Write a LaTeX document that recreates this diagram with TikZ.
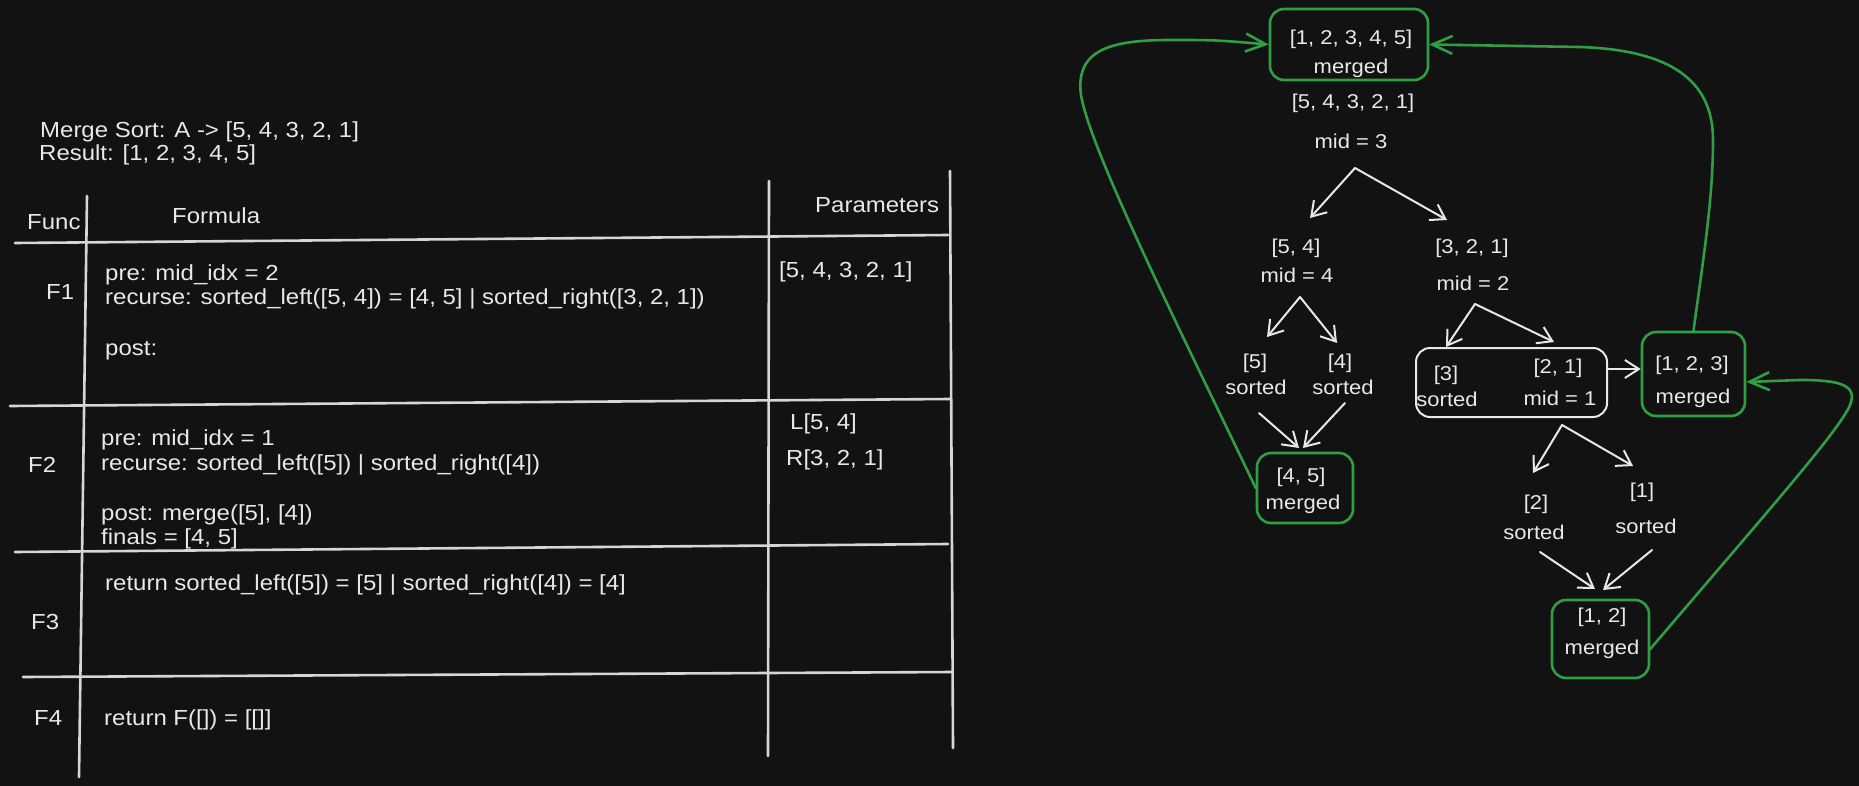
\documentclass[tikz,border=0pt]{standalone}
\usepackage{fontspec}
\setmainfont{Liberation Sans}[FakeStretch=1.1]
\usetikzlibrary{arrows.meta}
\definecolor{bg}{HTML}{121212}
\definecolor{fg}{HTML}{E8E8E8}
\definecolor{ln}{HTML}{D6D6D6}
\definecolor{gr}{HTML}{2F9E44}
\begin{document}
\begin{tikzpicture}[x=1pt,y=-1pt,
  tl/.style={anchor=base west, yshift=-7.5pt, text=fg, inner sep=0pt, font=\fontsize{21.8}{26}\selectfont},
  dt/.style={anchor=base, yshift=-7pt, text=fg, inner sep=0pt, font=\fontsize{20}{24}\selectfont},
  tline/.style={draw=ln, line width=2.6pt, line cap=round},
  wbox/.style={draw=fg, line width=2pt, rounded corners=14pt, inner sep=0pt},
  gbox/.style={draw=gr, line width=2.6pt, rounded corners=14pt, inner sep=0pt},
  warr/.style={draw=fg, line width=2pt, line cap=round, line join=round, -{Straight Barb[length=14pt,width=18pt]}},
  garr/.style={draw=gr, line width=2.6pt, line cap=round, line join=round, -{Straight Barb[length=20pt,width=18pt]}},
]
\fill[bg] (0,0) rectangle (1859,786);
\useasboundingbox (0,0) rectangle (1859,786);

% ---------- table ----------
\draw[tline] (87,196) -- (79,777);
\draw[tline] (769,181) -- (768,756);
\draw[tline] (950,171) -- (953,748);
\draw[tline] (15,243) -- (948,235);
\draw[tline] (10,406) -- (950,399);
\draw[tline] (15,552) -- (948,544);
\draw[tline] (23,677) -- (953,672);

\node[tl] (title) at (40,130) {Merge Sort: A -> [5, 4, 3, 2, 1]};
\node[tl] (result) at (39,153) {Result: [1, 2, 3, 4, 5]};
\node[tl] (hfunc) at (27,222) {Func};
\node[tl] (hform) at (172,216) {Formula};
\node[tl] (hpar) at (815,205) {Parameters};
\node[tl] (fa) at (46,292) {F1};
\node[tl] (fa1) at (105,273) {pre: mid\_idx = 2};
\node[tl] (fa2) at (105,297) {recurse: sorted\_left([5, 4]) = [4, 5] | sorted\_right([3, 2, 1])};
\node[tl] (fa3) at (105,348) {post:};
\node[tl] (pa) at (779,270) {[5, 4, 3, 2, 1]};
\node[tl] (fb) at (28,465) {F2};
\node[tl] (fb1) at (101,438) {pre: mid\_idx = 1};
\node[tl] (fb2) at (101,463) {recurse: sorted\_left([5]) | sorted\_right([4])};
\node[tl] (fb3) at (101,513) {post: merge([5], [4])};
\node[tl] (fb4) at (101,537) {finals = [4, 5]};
\node[tl] (pb1) at (790,422) {L[5, 4]};
\node[tl] (pb2) at (786,458) {R[3, 2, 1]};
\node[tl] (fc1) at (105,583) {return sorted\_left([5]) = [5] | sorted\_right([4]) = [4]};
\node[tl] (fc) at (31,622) {F3};
\node[tl] (fd) at (34,718) {F4};
\node[tl] (fd1) at (104,718) {return F([]) = [[]]};

% ---------- tree ----------
\node[gbox, minimum width=158pt, minimum height=71pt] (top) at (1349,44.5) {};
\node[dt] (topa) at (1351,38) {[1, 2, 3, 4, 5]};
\node[dt] (topb) at (1351,67) {merged};
\node[dt] (a1) at (1353,102) {[5, 4, 3, 2, 1]};
\node[dt] (m1) at (1351,142) {mid = 3};
\node[dt] (a2) at (1296,247) {[5, 4]};
\node[dt] (m2) at (1297,275) {mid = 4};
\node[dt] (a3) at (1472,247) {[3, 2, 1]};
\node[dt] (m3) at (1473,283) {mid = 2};
\node[dt] (s5a) at (1255,361) {[5]};
\node[dt] (s5b) at (1256,387) {sorted};
\node[dt] (s4a) at (1340,361) {[4]};
\node[dt] (s4b) at (1343,387) {sorted};
\node[gbox, minimum width=96pt, minimum height=70pt] (g45) at (1305,488) {};
\node[dt] (g45a) at (1301,475) {[4, 5]};
\node[dt] (g45b) at (1303,502) {merged};
\node[wbox, minimum width=191pt, minimum height=69pt] (wb) at (1511.5,382.5) {};
\node[dt] (w3a) at (1446,373) {[3]};
\node[dt] (w3b) at (1447,399) {sorted};
\node[dt] (w21a) at (1558,366) {[2, 1]};
\node[dt] (w21b) at (1560,398) {mid = 1};
\node[gbox, minimum width=103pt, minimum height=84pt] (g123) at (1693.5,374) {};
\node[dt] (g123a) at (1692,363) {[1, 2, 3]};
\node[dt] (g123b) at (1693,396) {merged};
\node[dt] (s2a) at (1536,502) {[2]};
\node[dt] (s2b) at (1534,532) {sorted};
\node[dt] (s1a) at (1642,490) {[1]};
\node[dt] (s1b) at (1646,526) {sorted};
\node[gbox, minimum width=97pt, minimum height=78pt] (g12) at (1600.5,639) {};
\node[dt] (g12a) at (1602,615) {[1, 2]};
\node[dt] (g12b) at (1602,647) {merged};

% fork coordinates
\coordinate (f1) at (1355,168);
\coordinate (f1l) at (1310,218);
\coordinate (f1r) at (1447,220);
\coordinate (f2) at (1300,297);
\coordinate (f2l) at (1267,337);
\coordinate (f2r) at (1337,343);
\coordinate (f3) at (1475,304);
\coordinate (f3l) at (1446,347);
\coordinate (f3r) at (1554,342);
\coordinate (f4) at (1562,425);
\coordinate (f4l) at (1533,473);
\coordinate (f4r) at (1633,466);
\coordinate (c5) at (1259,413);
\coordinate (c5e) at (1299,448);
\coordinate (c4) at (1345,403);
\coordinate (c4e) at (1303,448);
\coordinate (c2) at (1540,552);
\coordinate (c2e) at (1595,589);
\coordinate (c1) at (1652,550);
\coordinate (c1e) at (1603,590);
\coordinate (yw) at (0,369);

\draw[warr] (f1) -- (f1l);
\draw[warr] (f1) -- (f1r);
\draw[warr] (f2) -- (f2l);
\draw[warr] (f2) -- (f2r);
\draw[warr] (f3) -- (f3l);
\draw[warr] (f3) -- (f3r);
\draw[warr] (f4) -- (f4l);
\draw[warr] (f4) -- (f4r);
\draw[warr] (c5) -- (c5e);
\draw[warr] (c4) -- (c4e);
\draw[warr] (c2) -- (c2e);
\draw[warr] (c1) -- (c1e);
\draw[warr] (wb.east |- yw) -- (g123.west |- yw);

% green returns
\draw[garr] (g45.west) .. controls (1180,330) and (1090,150) .. (1081,95)
  .. controls (1075,50) and (1110,40) .. (1170,40)
  .. controls (1215,40) .. (top.west);
\draw[garr] (g123.north) .. controls (1703,260) and (1713,200) .. (1713,140)
  .. controls (1713,80) and (1670,50) .. (1580,47) -- (top.east);
\draw[garr] ([yshift=-10pt]g12.east) .. controls (1760,520) and (1840,430) .. (1850,405)
  .. controls (1858,385) and (1840,380) .. (1800,380) -- ([yshift=-8pt]g123.east);
\end{tikzpicture}
\end{document}
